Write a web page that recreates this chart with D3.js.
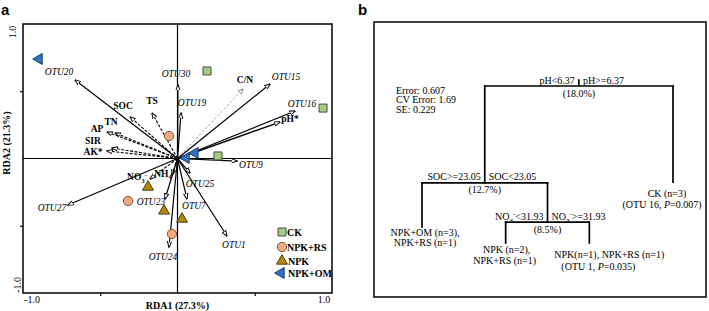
<!DOCTYPE html>
<html>
<head>
<meta charset="utf-8">
<script src="https://cdn.jsdelivr.net/npm/d3@7"></script>
<style>
body { margin: 0; background: #fff; }
svg { display: block; font-family: "Liberation Serif", "Times New Roman", serif; }
</style>
</head>
<body>
<svg width="709" height="311"></svg>
<script>
// ---- panel a data (RDA biplot) ----
const species  = ['OTU20', 'OTU30', 'OTU19', 'OTU15', 'OTU16', 'OTU9', 'OTU25', 'OTU7', 'OTU1', 'OTU24', 'OTU23', 'OTU27'];
const speciesX = [-0.663, 0.003, 0.023, 0.599, 0.761, 0.385, 0.081, 0.061, 0.320, -0.055, -0.081, -0.709];
const speciesY = [0.584, 0.546, 0.338, 0.554, 0.353, -0.019, -0.108, -0.301, -0.576, -0.658, -0.301, -0.346];

const envVars = ['C/N', 'pH*', 'TS', 'SOC', 'TN', 'AP', 'SIR', 'AK*', 'NO_3^-', 'NH_4^+'];
const envX    = [0.424, 0.663, -0.165, -0.307, -0.404, -0.456, -0.424, -0.456, -0.178, -0.036];
const envY    = [0.517, 0.271, 0.338, 0.309, 0.190, 0.197, 0.078, 0.056, -0.152, -0.123];

const groups    = ['CK', 'NPK+RS', 'NPK', 'NPK+OM'];
const siteGroup = ['CK', 'CK', 'CK', 'NPK+RS', 'NPK+RS', 'NPK+RS', 'NPK', 'NPK', 'NPK', 'NPK+OM', 'NPK+OM', 'NPK+OM'];
const siteX     = [0.191, 0.942, 0.262, -0.055, -0.320, -0.036, -0.191, -0.087, 0.029, -0.896, 0.055, 0.113];
const siteY     = [0.651, 0.375, 0.019, 0.167, -0.316, -0.561, -0.212, -0.390, -0.450, 0.740, 0.004, 0.041];

const xTickLabels = ['-1.0', '1.0'];
const yTickLabels = ['-1.0', '1.0'];

// ---- panel b data (regression tree) ----
const treeStats   = ['Error: 0.607', 'CV Error: 1.69', 'SE: 0.229'];
const splitLabels = [['pH<6.37', 'pH>=6.37'], ['SOC>=23.05', 'SOC<23.05'], ['NO_3^-<31.93', 'NO_3^->=31.93']];
const splitPct    = ['(18.0%)', '(12.7%)', '(8.5%)'];
const splitDev    = [1, 0.443, 0.218];
const leafText    = [['NPK+OM (n=3),', 'NPK+RS (n=1)'], ['NPK (n=2),', 'NPK+RS (n=1)'],
                     ['NPK(n=1), NPK+RS (n=1)', '(OTU 1, ~P~=0.035)'], ['CK (n=3)', '(OTU 16, ~P~=0.007)']];
const leafDev     = [0.190, 0.098, 0.098, 0.448];

// layout tweaks (label nudges, px)
const labelNudge = {
  OTU20: [-16, -8], OTU30: [-2, -12], OTU19: [11, -11], OTU15: [16, -7], OTU16: [7, -8], OTU9: [14, 3],
  OTU25: [10, 10], OTU7: [7, 7], OTU1: [7, 9], OTU24: [-6, 9], OTU23: [-14, 3], OTU27: [-16, 2],
  'C/N': [2, -9], 'pH*': [10, -4], TS: [0, -13], SOC: [-7, -11], TN: [-4, -11], AP: [-10, -4],
  SIR: [-19, -7.5], 'AK*': [-14, 1], 'NO_3^-': [-13, -2], 'NH_4^+': [-7, -2]
};
const leafLabelNudge = [[[3, 6], [3, 16]], [[1, 7], [-1, 18]], [[20, 12], [9, 24]], [[-6, 11], [-11, 22]]];

const svg = d3.select('svg');

// tiny markup: _x subscript, ^x superscript, ~ toggles italic
const rich = (text, str, fs) => {
  const segs = [];
  let italic = false;
  for (let i = 0; i < str.length; i++) {
    let c = str[i], shift = 0;
    if (c === '~') { italic = !italic; continue; }
    if (c === '_') { shift = 1; c = str[++i]; }
    else if (c === '^') { shift = -1; c = str[++i]; }
    const last = segs[segs.length - 1];
    if (last && last.shift === shift && last.italic === italic) last.t += c;
    else segs.push({ t: c, shift, italic });
  }
  let cur = 0;
  segs.forEach(s => {
    const target = s.shift === 1 ? fs * 0.3 : s.shift === -1 ? -fs * 0.4 : 0;
    text.append('tspan')
      .attr('dy', target - cur)
      .attr('font-size', s.shift ? fs * 0.7 : null)
      .attr('font-style', s.italic ? 'italic' : null)
      .text(s.t);
    cur = target;
  });
  return text;
};

// panel letters
svg.append('text').attr('x', 1).attr('y', 15).attr('font-family', 'Liberation Sans, Arial, sans-serif')
  .attr('font-weight', 'bold').attr('font-size', 15).text('a');
svg.append('text').attr('x', 358).attr('y', 15).attr('font-family', 'Liberation Sans, Arial, sans-serif')
  .attr('font-weight', 'bold').attr('font-size', 15).text('b');

//----------------- PANEL A -----------------
const x = d3.scaleLinear().domain([-1, 1]).range([23, 332]);
const y = d3.scaleLinear().domain([-1, 1]).range([293, 24]);

const defs = svg.append('defs');
const marker = (id, color) => defs.append('marker')
  .attr('id', id).attr('viewBox', '0 0 10 10').attr('refX', 9).attr('refY', 5)
  .attr('markerWidth', 6).attr('markerHeight', 6).attr('markerUnits', 'userSpaceOnUse')
  .attr('orient', 'auto')
  .append('path').attr('d', 'M0,1.5 L10,5 L0,8.5 Z')
  .attr('fill', '#fff').attr('stroke', color).attr('stroke-width', 1.6);
marker('head', '#000');
marker('headGray', '#888');

const a = svg.append('g');

// axes through origin
a.append('line').attr('x1', x(-1)).attr('x2', x(1)).attr('y1', y(0)).attr('y2', y(0))
  .attr('stroke', '#000').attr('stroke-width', 1.2);
a.append('line').attr('x1', x(0)).attr('x2', x(0)).attr('y1', y(-1)).attr('y2', y(1))
  .attr('stroke', '#000').attr('stroke-width', 1.2);

// ticks
a.append('g').attr('transform', `translate(0,${y(-1)})`)
  .call(d3.axisBottom(x).tickValues([-0.5, 0.5]).tickSize(3).tickFormat(''))
  .call(g => g.select('.domain').remove())
  .selectAll('line').attr('stroke-width', 1.2);
a.append('g').attr('transform', `translate(${x(-1)},0)`)
  .call(d3.axisLeft(y).tickValues([-0.5, 0.5]).tickSize(3).tickFormat(''))
  .call(g => g.select('.domain').remove())
  .selectAll('line').attr('stroke-width', 1.2);

// frame
a.append('rect').attr('x', x(-1)).attr('y', y(1))
  .attr('width', x(1) - x(-1)).attr('height', y(-1) - y(1))
  .attr('fill', 'none').attr('stroke', '#000').attr('stroke-width', 1.5);

// tick labels
a.selectAll('.xtl').data(xTickLabels).enter().append('text')
  .attr('x', (d, i) => i ? x(1) - 8 : x(-1) + 9).attr('y', 303)
  .attr('text-anchor', 'middle').attr('font-size', 10).text(d => d);
a.selectAll('.ytl').data(yTickLabels).enter().append('text')
  .attr('transform', (d, i) => i ? `translate(16,${y(1) + 8}) rotate(-90)` : `translate(21,${y(-1) - 8}) rotate(-90)`)
  .attr('text-anchor', 'middle').attr('font-size', 10).text(d => d);

// axis titles
a.append('text').attr('x', x(0)).attr('y', 309).attr('text-anchor', 'middle')
  .attr('font-weight', 'bold').attr('font-size', 10).text('RDA1 (27.3%)');
a.append('text').attr('transform', `translate(10,143) rotate(-90)`).attr('text-anchor', 'middle')
  .attr('font-weight', 'bold').attr('font-size', 10).text('RDA2 (21.3%)');

// environmental arrows (dashed)
envVars.forEach((v, i) => {
  const gray = v === 'C/N';
  const solid = v === 'pH*';
  a.append('line')
    .attr('x1', x(0)).attr('y1', y(0)).attr('x2', x(envX[i])).attr('y2', y(envY[i]))
    .attr('stroke', gray ? '#888' : '#000')
    .attr('stroke-width', gray ? 0.8 : solid ? 1.4 : 1.1)
    .attr('stroke-dasharray', solid ? null : gray ? '2.5,2' : '3,1.5')
    .attr('marker-end', gray ? 'url(#headGray)' : 'url(#head)');
});

// species arrows (solid)
species.forEach((s, i) => {
  a.append('line')
    .attr('x1', x(0)).attr('y1', y(0)).attr('x2', x(speciesX[i])).attr('y2', y(speciesY[i]))
    .attr('stroke', '#000').attr('stroke-width', 1.2)
    .attr('marker-end', 'url(#head)');
});

// labels
species.forEach((s, i) => {
  const [dx, dy] = labelNudge[s];
  a.append('text').attr('x', x(speciesX[i]) + dx).attr('y', y(speciesY[i]) + dy + 3.5)
    .attr('text-anchor', 'middle').attr('font-style', 'italic').attr('font-size', 9.5).text(s);
});
envVars.forEach((v, i) => {
  const [dx, dy] = labelNudge[v];
  const t = a.append('text').attr('x', x(envX[i]) + dx).attr('y', y(envY[i]) + dy + 3.5)
    .attr('text-anchor', 'middle').attr('font-weight', 'bold').attr('font-size', 9.5);
  rich(t, v, 9.5);
});

// site symbols
const groupColor = { 'CK': '#a2cd7c', 'NPK+RS': '#f4a97f', 'NPK': '#b3870c', 'NPK+OM': '#2f73c0' };
const groupStroke = { 'CK': '#4b4b4b', 'NPK+RS': '#7a5238', 'NPK': '#4f3c05', 'NPK+OM': '#1d3e6a' };
const symbolFor = g => {
  if (g === 'CK') return d3.symbol().type(d3.symbolSquare).size(64)();
  if (g === 'NPK+RS') return d3.symbol().type(d3.symbolCircle).size(68)();
  return d3.symbol().type(d3.symbolTriangle).size(52)();
};
const rot = g => g === 'NPK+OM' ? ' rotate(-90)' : '';

a.selectAll('.site').data(siteGroup).enter().append('path')
  .attr('transform', (g, i) => `translate(${x(siteX[i])},${y(siteY[i])})${rot(g)}`)
  .attr('d', g => symbolFor(g))
  .attr('fill', g => groupColor[g]).attr('stroke', g => groupStroke[g]).attr('stroke-width', 1);

// legend
const legend = a.append('g').attr('transform', 'translate(282,232)');
groups.forEach((g, i) => {
  const row = legend.append('g').attr('transform', `translate(0,${[0, 15, 29, 41][i]})`);
  row.append('path').attr('d', symbolFor(g))
    .attr('transform', `translate(${g === 'NPK+OM' ? -1 : 0},0)${rot(g)}`)
    .attr('fill', groupColor[g]).attr('stroke', groupStroke[g]).attr('stroke-width', 1);
  row.append('text').attr('x', g === 'NPK+RS' || g === 'CK' ? 5 : 6).attr('y', 3.8)
    .attr('font-weight', 'bold').attr('font-size', 10).text(g);
});

//----------------- PANEL B -----------------
const b = svg.append('g');
b.append('rect').attr('x', 374).attr('y', 22).attr('width', 332).attr('height', 275)
  .attr('fill', 'none').attr('stroke', '#000').attr('stroke-width', 1.5);

b.selectAll('.stat').data(treeStats).enter().append('text')
  .attr('x', 396).attr('y', (d, i) => 93.5 + i * 9.7).attr('font-size', 10).text(d => d);

// tree structure built from the arrays
const leaf = i => ({ leaf: i, dev: leafDev[i] });
const split = (i, kids) => ({ split: i, dev: splitDev[i], children: kids });
const tree = d3.hierarchy(split(0, [split(1, [leaf(0), split(2, [leaf(1), leaf(2)])]), leaf(3)]));

const tx = d3.scalePoint().domain(d3.range(leafText.length)).range([422, 673]);
const ty = d3.scaleLinear().domain([0, 1]).range([260, 86]);

tree.eachAfter(n => {
  n.px = n.children ? d3.mean(n.children, c => c.px) : tx(n.data.leaf);
  n.py = ty(n.data.dev);
});

const lineStyle = sel => sel.attr('stroke', '#000').attr('stroke-width', 1.7).attr('stroke-linecap', 'square');

tree.each(n => {
  if (n.children) {
    b.append('line').attr('x1', n.children[0].px).attr('x2', n.children[1].px)
      .attr('y1', n.py).attr('y2', n.py).call(lineStyle);
    n.children.forEach(c => {
      b.append('line').attr('x1', c.px).attr('x2', c.px).attr('y1', n.py).attr('y2', c.py).call(lineStyle);
    });
    const [lt, rt] = splitLabels[n.data.split];
    rich(b.append('text').attr('x', n.px - 4).attr('y', n.py - 2.5).attr('text-anchor', 'end').attr('font-size', 10), lt, 10);
    rich(b.append('text').attr('x', n.px + 4).attr('y', n.py - 2.5).attr('font-size', 10), rt, 10);
    b.append('text').attr('x', n.px).attr('y', n.py + 10.5).attr('text-anchor', 'middle')
      .attr('font-size', 10).text(splitPct[n.data.split]);
  } else {
    leafText[n.data.leaf].forEach((line, j) => {
      const [dx, dy] = leafLabelNudge[n.data.leaf][j];
      rich(b.append('text').attr('x', n.px + dx).attr('y', n.py + dy + 3.5)
        .attr('text-anchor', 'middle').attr('font-size', 10), line, 10);
    });
  }
});
// stub above root
b.append('line').attr('x1', tree.px).attr('x2', tree.px).attr('y1', tree.py - 6).attr('y2', tree.py).call(lineStyle);
</script>
</body>
</html>
